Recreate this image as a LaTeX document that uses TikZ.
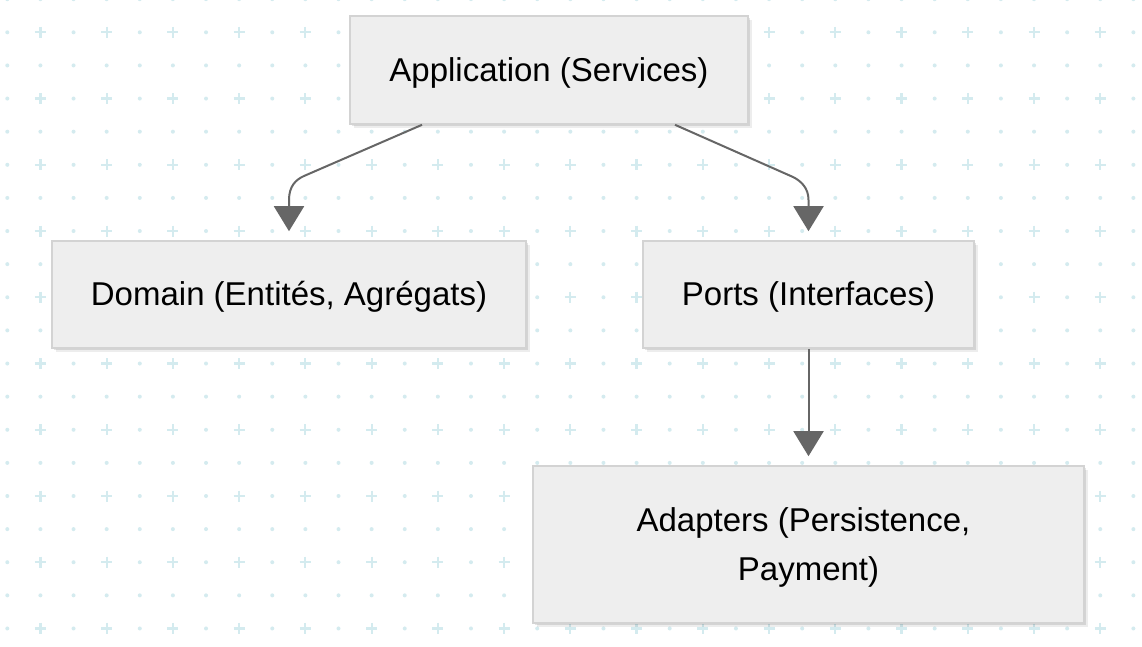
\documentclass[tikz,border=0pt]{standalone}
\usepackage{fontspec}
\setmainfont{Liberation Sans}
\usetikzlibrary{arrows.meta,shadows}
\definecolor{gridc}{RGB}{212,235,239}
\definecolor{boxfill}{RGB}{238,238,238}
\definecolor{boxline}{RGB}{211,211,211}
\definecolor{linkc}{RGB}{102,102,102}
\newcommand{\boxlbl}[1]{\raisebox{-1.5pt}[\height][\depth]{\begin{tabular}{@{}c@{}}#1\end{tabular}}}
\tikzset{
  box/.style={rectangle, draw=boxline, line width=1.6pt, fill=boxfill,
    inner sep=0pt, font=\fontsize{33}{49.5}\selectfont,
    drop shadow={shadow xshift=4pt, shadow yshift=-4pt, fill=black, opacity=0.07},
    drop shadow={shadow xshift=2pt, shadow yshift=-2pt, fill=black, opacity=0.10}},
  link/.style={draw=linkc, line width=2pt,
    -{Triangle[length=25pt, width=30pt]}, shorten >=9pt},
}
\begin{document}
\begin{tikzpicture}[x=1pt, y=-1pt]
\useasboundingbox (0,0) rectangle (1142,647);
\fill[white] (0,0) rectangle (1142,647);
% background grid
\foreach \i in {0,...,34}{
  \foreach \j in {0,...,19}{
    \pgfmathsetmacro{\px}{7.3+33.12*\i}
    \pgfmathsetmacro{\py}{-0.8+33.12*\j}
    \pgfmathtruncatemacro{\both}{(mod(\i,2)==1)&&(mod(\j,2)==1)}
    \ifnum\both=1
      \draw[gridc, line width=2.2pt] (\px-5.5,\py) -- (\px+5.5,\py) (\px,\py-5.5) -- (\px,\py+5.5);
    \else
      \fill[gridc] (\px,\py) circle (2);
    \fi
  }
}
% nodes
\node[box, minimum width=398pt, minimum height=108pt] (app) at (549,70) {\boxlbl{Application (Services)}};
\node[box, minimum width=474pt, minimum height=107pt] (dom) at (289,294.5) {\boxlbl{Domain (Entités, Agrégats)}};
\node[box, minimum width=331pt, minimum height=107pt] (ports) at (808.5,294.5) {\boxlbl{Ports (Interfaces)}};
\node[box, minimum width=551pt, minimum height=157pt] (adapt) at (808.5,544.5) {\boxlbl{Adapters (Persistence,\hspace*{10pt}\\Payment)}};
% connectors
\coordinate (a1) at ([xshift=-127pt]app.south);
\coordinate (a2) at ([xshift=126pt]app.south);
\draw[link] (a1) -- (304,176) .. controls (296,179.5) and (289,186) .. (289,200) -- (dom.north);
\draw[link] (a2) -- (793,177) .. controls (801,181) and (808.5,188) .. (808.5,200) -- (ports.north);
\draw[link] (ports.south) -- (adapt.north);
\end{tikzpicture}
\end{document}
